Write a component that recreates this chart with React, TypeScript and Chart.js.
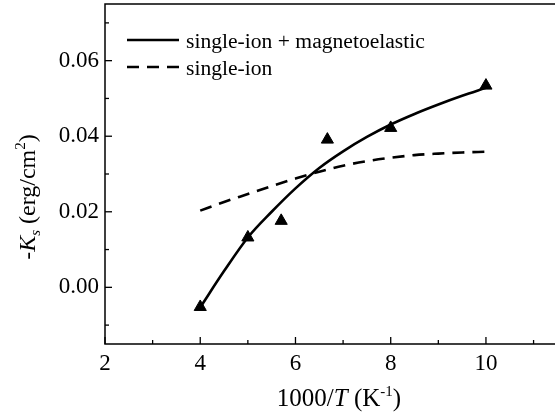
import React, { useEffect, useRef } from "react";
import { Chart, registerables } from "chart.js";

Chart.register(...registerables);

// ---- data ----
const curveX = [4, 4.5, 5, 5.5, 6, 6.5, 7, 7.5, 8, 8.5, 9, 9.5, 10];
const combinedY = [-0.0053, 0.0043, 0.0132, 0.02, 0.0262, 0.0316, 0.036, 0.0398, 0.0431, 0.0459, 0.0484, 0.0507, 0.0528];
const singleIonY = [0.0203, 0.0226, 0.0247, 0.0268, 0.0288, 0.0306, 0.0322, 0.0334, 0.0343, 0.035, 0.0354, 0.0357, 0.0359];
const measuredX = [4, 5, 5.7, 6.67, 8, 10];
const measuredY = [-0.0052, 0.0132, 0.0176, 0.0391, 0.0422, 0.0534];

const xMajorTicks = [2, 4, 6, 8, 10];
const xMinorTicks = [3, 5, 7, 9, 11];
const yMajorTicks = [0, 0.02, 0.04, 0.06];
const yMinorTicks = [-0.01, 0.01, 0.03, 0.05, 0.07];

const legendLabels = ["single-ion + magnetoelastic", "single-ion"];

const FONT = "'Liberation Serif', 'Times New Roman', serif";

const zeroPad = (s: any) => {
  s.paddingTop = 0;
  s.paddingBottom = 0;
  s.paddingLeft = 0;
  s.paddingRight = 0;
};

const decorPlugin = {
  id: "decor",
  afterDraw(chart: any) {
    const ctx = chart.ctx;
    const { left, right, top, bottom } = chart.chartArea;
    const xs = chart.scales.x;
    const ys = chart.scales.y;
    ctx.save();
    ctx.strokeStyle = "#000";
    ctx.fillStyle = "#000";
    ctx.lineWidth = 1.5;
    // frame
    ctx.beginPath();
    ctx.moveTo(right + 2, top);
    ctx.lineTo(left, top);
    ctx.lineTo(left, bottom);
    ctx.lineTo(right + 2, bottom);
    ctx.stroke();
    // ticks (inward)
    ctx.lineWidth = 1.3;
    const tick = (v: number, len: number, axis: string) => {
      ctx.beginPath();
      if (axis === "x") {
        const p = xs.getPixelForValue(v);
        ctx.moveTo(p, bottom);
        ctx.lineTo(p, bottom - len);
      } else {
        const p = ys.getPixelForValue(v);
        ctx.moveTo(left, p);
        ctx.lineTo(left + len, p);
      }
      ctx.stroke();
    };
    xMajorTicks.forEach((v) => tick(v, 7, "x"));
    xMinorTicks.forEach((v) => tick(v, 4, "x"));
    yMajorTicks.forEach((v) => tick(v, 7, "y"));
    yMinorTicks.forEach((v) => tick(v, 4, "y"));

    // x title: 1000/T (K-1)
    const parts: [string, string, number][] = [
      ["1000/", "n", 0],
      ["T", "i", 0],
      [" (K", "n", 0],
      ["-1", "s", 0],
      [")", "n", 0],
    ];
    const big = 25;
    const small = 15;
    const fontFor = (k: string) =>
      k === "i" ? `italic ${big}px ${FONT}` : k === "s" ? `${small}px ${FONT}` : `${big}px ${FONT}`;
    let total = 0;
    parts.forEach((p) => {
      ctx.font = fontFor(p[1]);
      p[2] = ctx.measureText(p[0]).width;
      total += p[2];
    });
    let cx = 339 - total / 2;
    const base = 406;
    ctx.textBaseline = "alphabetic";
    ctx.textAlign = "left";
    parts.forEach((p) => {
      ctx.font = fontFor(p[1]);
      ctx.fillText(p[0], cx, p[1] === "s" ? base - 10 : base);
      cx += p[2];
    });

    // y title: -K_s (erg/cm^2)
    const yparts: [string, string, number][] = [
      ["-", "n", 0],
      ["K", "i", 0],
      ["s", "sub", 0],
      [" (erg/cm", "n", 0],
      ["2", "sup", 0],
      [")", "n", 0],
    ];
    const yFont = (k: string) =>
      k === "i" ? `italic 24px ${FONT}` : k === "sub" ? `italic 15px ${FONT}` : k === "sup" ? `15px ${FONT}` : `24px ${FONT}`;
    let ytotal = 0;
    yparts.forEach((p) => {
      ctx.font = yFont(p[1]);
      p[2] = ctx.measureText(p[0]).width;
      ytotal += p[2];
    });
    ctx.save();
    ctx.translate(35, 197);
    ctx.rotate(-Math.PI / 2);
    let yx = -ytotal / 2;
    yparts.forEach((p) => {
      ctx.font = yFont(p[1]);
      const off = p[1] === "sub" ? 5 : p[1] === "sup" ? -10 : 0;
      ctx.fillText(p[0], yx, off);
      yx += p[2];
    });
    ctx.restore();

    // legend
    const ds = chart.data.datasets;
    [0, 1].forEach((i) => {
      const ly = 40 + i * 27;
      ctx.beginPath();
      ctx.lineWidth = 2.6;
      ctx.setLineDash(ds[i].borderDash || []);
      ctx.moveTo(127, ly);
      ctx.lineTo(179, ly);
      ctx.stroke();
      ctx.setLineDash([]);
      ctx.font = `21.6px ${FONT}`;
      ctx.fillText(ds[i].label, 186, ly + 8);
    });
    ctx.restore();
  },
};

export default function App() {
  const ref = useRef<HTMLCanvasElement>(null);
  useEffect(() => {
    document.body.style.margin = "0";
    const chart = new Chart(ref.current as HTMLCanvasElement, {
      type: "line",
      data: {
        datasets: [
          {
            label: legendLabels[0],
            data: curveX.map((x, i) => ({ x, y: combinedY[i] })),
            borderColor: "#000",
            borderWidth: 2.6,
            pointRadius: 0,
            cubicInterpolationMode: "monotone",
            fill: false,
          },
          {
            label: legendLabels[1],
            data: curveX.map((x, i) => ({ x, y: singleIonY[i] })),
            borderColor: "#000",
            borderWidth: 2.6,
            borderDash: [12, 8],
            pointRadius: 0,
            cubicInterpolationMode: "monotone",
            fill: false,
          },
          {
            label: "data",
            data: measuredX.map((x, i) => ({ x, y: measuredY[i] })),
            showLine: false,
            pointStyle: "triangle",
            pointRadius: 7,
            backgroundColor: "#000",
            borderColor: "#000",
            borderWidth: 1,
          },
        ],
      },
      options: {
        animation: false,
        responsive: false,
        layout: { autoPadding: false, padding: { top: 4, right: 0, left: 0, bottom: 0 } },
        plugins: { legend: { display: false }, tooltip: { enabled: false } },
        scales: {
          x: {
            type: "linear",
            min: 2,
            max: 11.45,
            grid: { display: false, drawTicks: false },
            border: { display: false },
            afterBuildTicks: (s: any) => {
              s.ticks = xMajorTicks.map((v) => ({ value: v }));
            },
            afterFit: (s: any) => {
              s.height = 69;
              zeroPad(s);
            },
            ticks: {
              color: "#000",
              font: { family: FONT, size: 23 },
              padding: 6,
              maxRotation: 0,
              callback: (v: any) => String(v),
            },
          },
          y: {
            type: "linear",
            min: -0.015,
            max: 0.075,
            grid: { display: false, drawTicks: false },
            border: { display: false },
            afterBuildTicks: (s: any) => {
              s.ticks = yMajorTicks.map((v) => ({ value: v }));
            },
            afterFit: (s: any) => {
              s.width = 105;
              zeroPad(s);
            },
            ticks: {
              color: "#000",
              font: { family: FONT, size: 23 },
              padding: 6,
              callback: (v: any) => Number(v).toFixed(2),
            },
          },
        },
      } as any,
      plugins: [decorPlugin],
    });
    return () => chart.destroy();
  }, []);
  return (
    <div style={{ width: 555, height: 413 }}>
      <canvas ref={ref} width={555} height={413} style={{ display: "block" }} />
    </div>
  );
}
